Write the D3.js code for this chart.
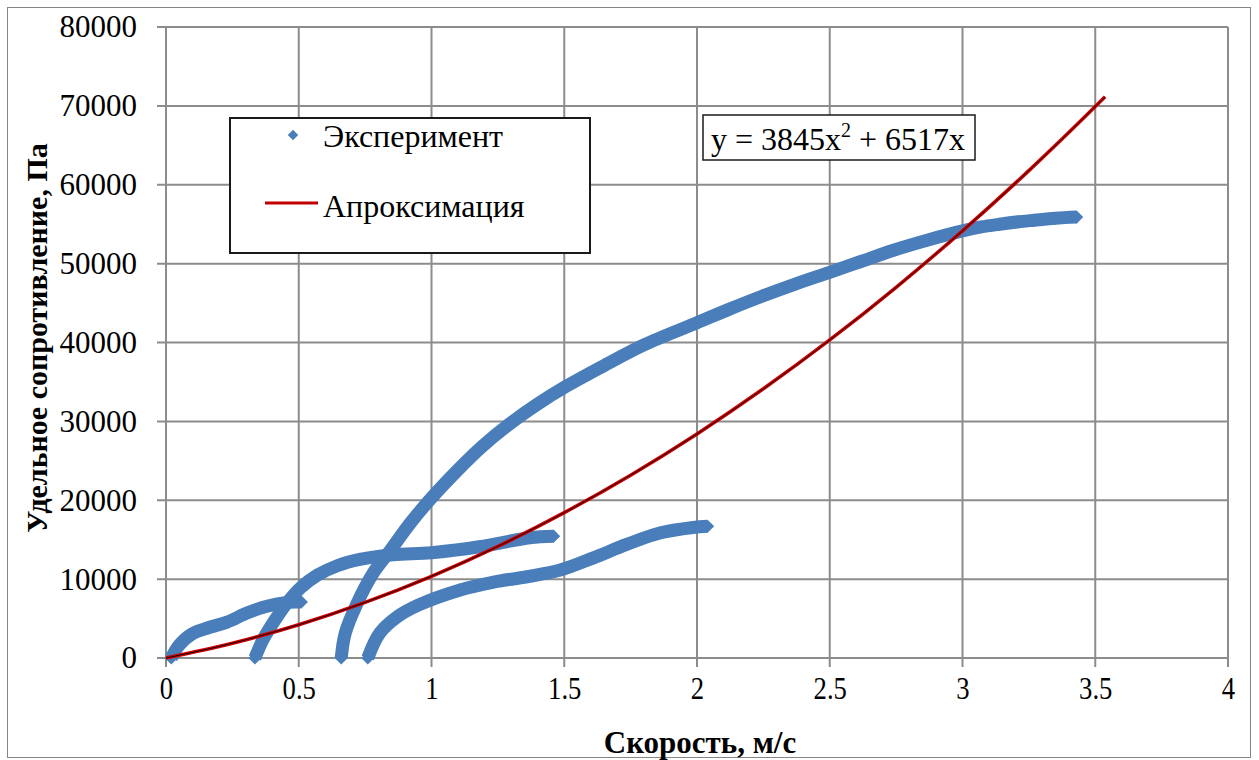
<!DOCTYPE html>
<html>
<head>
<meta charset="utf-8">
<script src="https://cdn.jsdelivr.net/npm/d3@7"></script>
<style>
  body { margin: 0; background: #fff; }
  svg { display: block; font-family: "Liberation Serif", "Times New Roman", serif; }
</style>
</head>
<body>
<svg id="chart" width="1259" height="760"></svg>
<script>
// values: [speed m/s, resistance Pa]
const runA = [[0.02, 0], [0.05, 1650], [0.10, 3100], [0.165, 3900], [0.23, 4550], [0.305, 5700],
  [0.38, 6550], [0.455, 7050], [0.51, 7100]];
const runB = [[0.335, 0], [0.365, 2300], [0.41, 4800], [0.455, 6950], [0.505, 8850], [0.57, 10500],
  [0.645, 11700], [0.73, 12500], [0.855, 13100], [1.0, 13350], [1.18, 14100], [1.37, 15250], [1.46, 15450]];
const runC = [[0.66, 0], [0.675, 3150], [0.72, 6950], [0.78, 10750], [0.845, 13650], [0.92, 17100],
  [1.0, 20300], [1.095, 23700], [1.19, 26800], [1.295, 29700], [1.40, 32200], [1.50, 34300],
  [1.646, 37000], [1.80, 39700], [2.0, 42500], [2.12, 44200], [2.24, 45800], [2.37, 47400], [2.50, 48900],
  [2.62, 50300], [2.74, 51700], [2.87, 53000], [3.0, 54150], [3.07, 54650], [3.14, 55000],
  [3.21, 55300], [3.27, 55500], [3.35, 55750], [3.43, 55900]];
const runD = [[0.76, 0], [0.805, 3150], [0.87, 5200], [0.95, 6700], [1.105, 8600], [1.23, 9600],
  [1.36, 10300], [1.485, 11150], [1.61, 12700], [1.735, 14400], [1.86, 15850], [1.985, 16550], [2.04, 16700]];
const experiment = [runA, runB, runC, runD];

const fitLine = [[0, 0], [0.25, 1870], [0.5, 4220], [0.75, 7050], [1.0, 10360], [1.25, 14150],
  [1.5, 18430], [1.75, 23180], [2.0, 28410], [2.25, 34130], [2.5, 40320], [2.75, 47000],
  [3.0, 54160], [3.25, 61790], [3.5, 69910], [3.537, 71150]];

const xTicks = [0, 0.5, 1, 1.5, 2, 2.5, 3, 3.5, 4];
const yTicks = [0, 10000, 20000, 30000, 40000, 50000, 60000, 70000, 80000];
const legendLabels = ['Эксперимент', 'Апроксимация'];

const BLUE = '#4a7ebb';
const RED = '#d00000';

const svg = d3.select('#chart');

// outer chart frame
svg.append('rect')
  .attr('x', 7.5).attr('y', 7.5).attr('width', 1243).attr('height', 750)
  .attr('fill', '#fff').attr('stroke', '#868686').attr('stroke-width', 1);

const x = d3.scaleLinear().domain([0, 4]).range([166, 1228]);
const y = d3.scaleLinear().domain([0, 80000]).range([658, 27]);

// grid
const grid = svg.append('g').attr('stroke', '#8c8c8c').attr('stroke-width', 2);
grid.selectAll('.vx').data(xTicks).join('line')
  .attr('x1', d => x(d)).attr('x2', d => x(d))
  .attr('y1', y(80000)).attr('y2', y(0) + 9);
grid.selectAll('.hy').data(yTicks).join('line')
  .attr('y1', d => y(d)).attr('y2', d => y(d))
  .attr('x1', x(0) - 9).attr('x2', x(4));

// tick labels via d3 axes (lines hidden, grid does the job)
const xAxis = svg.append('g')
  .attr('transform', `translate(0,${y(0)})`)
  .call(d3.axisBottom(x).tickValues(xTicks).tickSize(0).tickPadding(19).tickFormat(d3.format('')));
xAxis.select('.domain').remove();
// condensed x labels like the original
xAxis.selectAll('text')
  .attr('font-size', 31).attr('font-family', 'Liberation Serif').attr('fill', '#000')
  .attr('transform', 'scale(0.86,1)');

const yAxis = svg.append('g')
  .attr('transform', `translate(${x(0)},0)`)
  .call(d3.axisLeft(y).tickValues(yTicks).tickSize(0).tickPadding(29).tickFormat(d3.format('d')));
yAxis.select('.domain').remove();
yAxis.selectAll('text').attr('font-size', 31).attr('font-family', 'Liberation Serif').attr('fill', '#000');

// axis titles
svg.append('text')
  .attr('x', 700).attr('y', 753)
  .attr('text-anchor', 'middle')
  .attr('font-size', 31).attr('font-weight', 'bold')
  .text('Скорость, м/с');

svg.append('text')
  .attr('transform', 'translate(47,338) rotate(-90)')
  .attr('text-anchor', 'middle')
  .attr('font-size', 30).attr('font-weight', 'bold')
  .text('Удельное сопротивление, Па');

// experimental runs: dense marker trail + diamonds
const trail = d3.line().x(d => x(d[0])).y(d => y(d[1])).curve(d3.curveCatmullRom.alpha(0.5));
const diamond = d3.symbol().type(d3.symbolDiamond2).size(110);

const runs = svg.append('g');
experiment.forEach(run => {
  runs.append('path')
    .attr('d', trail(run))
    .attr('fill', 'none').attr('stroke', BLUE).attr('stroke-width', 13);
  runs.selectAll(null).data(run).join('path')
    .attr('d', diamond)
    .attr('transform', d => `translate(${x(d[0])},${y(d[1])})`)
    .attr('fill', BLUE);
});

// approximation: red trend line with thin black line over it
const fit = d3.line().x(d => x(d[0])).y(d => y(d[1])).curve(d3.curveMonotoneX);
svg.append('path').attr('d', fit(fitLine))
  .attr('fill', 'none').attr('stroke', RED).attr('stroke-width', 3.5);
svg.append('path').attr('d', fit(fitLine))
  .attr('fill', 'none').attr('stroke', '#000').attr('stroke-width', 0.9);

// legend
const legend = svg.append('g');
legend.append('rect')
  .attr('x', 230).attr('y', 118).attr('width', 360).attr('height', 135)
  .attr('fill', '#fff').attr('stroke', '#1a1a1a').attr('stroke-width', 2);
legend.append('path')
  .attr('d', d3.symbol().type(d3.symbolDiamond2).size(70))
  .attr('transform', 'translate(293,135)')
  .attr('fill', BLUE);
legend.append('line')
  .attr('x1', 265).attr('x2', 318).attr('y1', 203).attr('y2', 203)
  .attr('stroke', '#c00000').attr('stroke-width', 3);
legend.selectAll('.lbl').data(legendLabels).join('text')
  .attr('x', 323).attr('y', (d, i) => 147 + i * 70)
  .attr('font-size', 32)
  .text(d => d);

// equation box
const eq = svg.append('g');
eq.append('rect')
  .attr('x', 703).attr('y', 115).attr('width', 272).attr('height', 45)
  .attr('fill', '#fff').attr('stroke', '#1a1a1a').attr('stroke-width', 1.5);
const eqText = eq.append('text').attr('x', 711).attr('y', 150).attr('font-size', 32);
eqText.append('tspan').text('y = 3845x');
eqText.append('tspan').attr('font-size', 20).attr('dy', -13).text('2');
eqText.append('tspan').attr('dy', 13).text(' + 6517x');
</script>
</body>
</html>
